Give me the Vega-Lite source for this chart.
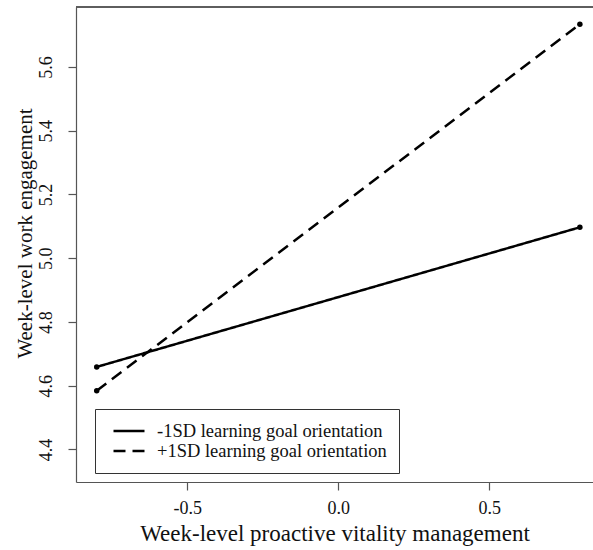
{
  "$schema": "https://vega.github.io/schema/vega-lite/v6.json",
  "width": 517,
  "height": 475,
  "autosize": "none",
  "padding": {"left": 76, "top": 7, "right": 0, "bottom": 68},
  "background": "white",
  "config": {
    "view": {"stroke": null},
    "font": "Liberation Serif",
    "axis": {"grid": false, "domainColor": "#555", "tickColor": "#555", "tickSize": 8, "domainWidth": 1.2, "tickWidth": 1.2, "labelFont": "Liberation Serif", "titleFont": "Liberation Serif", "labelColor": "#111", "titleColor": "#111", "labelFontSize": 18, "titleFontSize": 21, "titleFontWeight": "normal"}
  },
  "data": {"values": [
    {"x": -0.8, "y": 4.659, "g": "-1SD learning goal orientation"},
    {"x": 0.8, "y": 5.097, "g": "-1SD learning goal orientation"},
    {"x": -0.8, "y": 4.584, "g": "+1SD learning goal orientation"},
    {"x": 0.8, "y": 5.734, "g": "+1SD learning goal orientation"}
  ]},
  "layer": [
    {
      "mark": {"type": "line", "color": "black", "strokeWidth": 2.5},
      "encoding": {
        "x": {"field": "x", "type": "quantitative", "scale": {"domain": [-0.8686, 0.8434], "nice": false, "zero": false},
          "axis": {"values": [-0.5, 0, 0.5], "format": ".1f", "labelExpr": "replace(datum.label, '\u2212', '-')", "title": "Week-level proactive vitality management", "titleFontSize": 23, "labelPadding": 9, "titlePadding": 5}},
        "y": {"field": "y", "type": "quantitative", "scale": {"domain": [4.298, 5.788], "nice": false, "zero": false},
          "axis": {"values": [4.4, 4.6, 4.8, 5.0, 5.2, 5.4, 5.6], "format": ".1f", "title": "Week-level work engagement", "labelAngle": -90, "labelAlign": "center", "labelBaseline": "bottom", "labelPadding": 12.5, "titleX": -51, "titleY": 226, "titleAngle": -90, "titleAlign": "center", "titleBaseline": "middle"}},
        "strokeDash": {"field": "g", "type": "nominal",
          "scale": {"domain": ["-1SD learning goal orientation", "+1SD learning goal orientation"], "range": [[1, 0], [12, 7]]},
          "legend": {"title": null, "orient": "none", "legendX": 19, "legendY": 402, "strokeColor": "#333", "padding": 12, "labelFontSize": 18.5, "labelFont": "Liberation Serif", "labelColor": "#111", "symbolType": "stroke", "symbolSize": 961, "symbolStrokeWidth": 2.5, "symbolStrokeColor": "black", "clipHeight": 20, "rowPadding": 0, "labelOffset": 11, "symbolOffset": 5, "labelLimit": 400}}
      }
    },
    {
      "mark": {"type": "point", "filled": true, "color": "black", "size": 30, "opacity": 1},
      "encoding": {
        "x": {"field": "x", "type": "quantitative"},
        "y": {"field": "y", "type": "quantitative"}
      }
    },
    {
      "mark": {"type": "rule", "color": "#555", "strokeWidth": 1.2},
      "encoding": {
        "y": {"datum": 5.788, "type": "quantitative"}
      }
    }
  ]
}
